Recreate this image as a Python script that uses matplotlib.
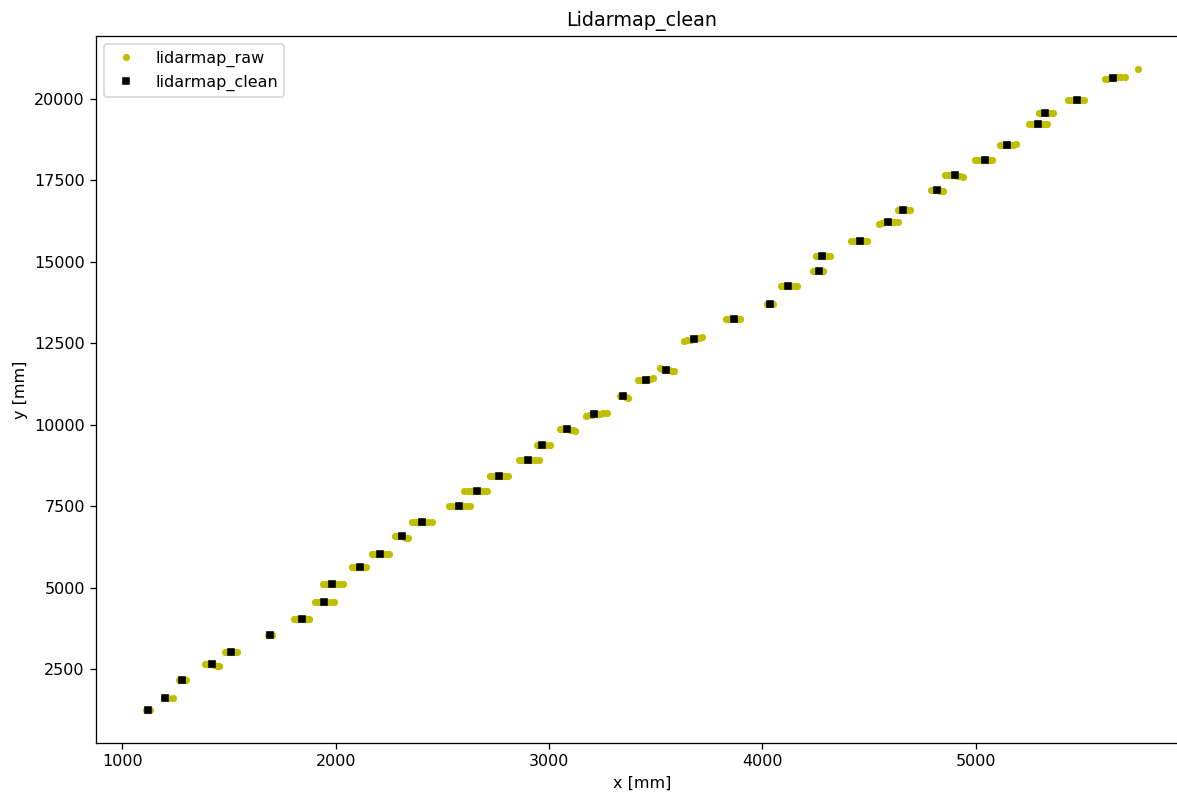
import numpy as np
import matplotlib
matplotlib.use("Agg")
import matplotlib.pyplot as plt

# Cleaned landmark positions (one per cluster of raw lidar hits), in mm
clean_x = [1119, 1200, 1281, 1419, 1509, 1692, 1841, 1944, 1984, 2114,
           2209, 2312, 2403, 2578, 2663, 2765, 2899, 2968, 3086, 3211,
           3347, 3454, 3549, 3679, 3866, 4036, 4121, 4265, 4281, 4459,
           4586, 4659, 4816, 4900, 5044, 5147, 5291, 5322, 5472, 5642]
clean_y = [1241, 1619, 2153, 2644, 3022, 3544, 4044, 4566, 5100, 5622,
           6040, 6574, 7022, 7504, 7974, 8425, 8917, 9377, 9859, 10320,
           10882, 11364, 11680, 12632, 13246, 13691, 14268, 14729, 15180, 15641,
           16233, 16583, 17216, 17667, 18127, 18582, 19218, 19570, 19960, 20654]

# Raw hits around each cleaned landmark (offsets in mm)
raw_dx = [
    [-9, -4, 0, 4, 9],
    [-6, 0, 7, 14, 40],
    [-13, -6, 0, 8, 17],
    [-33, -22, -11, 0, 12, 23, 33],
    [-27, -14, 0, 13, 27],
    [-9, 0, 9],
    [-36, -24, -12, 0, 12, 24, 36],
    [-42, -28, -14, 0, 16, 32, 47],
    [-44, -30, -15, 0, 17, 35, 52],
    [-36, -24, -12, 0, 10, 20, 30],
    [-41, -27, -14, 0, 14, 28, 42],
    [-33, -22, -11, 0, 10, 19, 28],
    [-47, -31, -16, 0, 16, 31, 47],
    [-47, -31, -16, 0, 18, 35, 53],
    [-61, -45, -30, -15, 0, 16, 32, 48],
    [-42, -28, -14, 0, 14, 28, 42],
    [-42, -28, -14, 0, 17, 35, 52],
    [-25, -12, 0, 12, 24, 36],
    [-37, -25, -12, 0, 12, 25, 37],
    [-37, -25, -12, 0, 15, 30, 44, 59],
    [-14, -7, 0, 12, 25],
    [-36, -24, -12, 0, 10, 20, 31],
    [-30, -20, -10, 0, 12, 25, 37],
    [-47, -31, -16, 0, 12, 25, 37],
    [-39, -26, -13, 0, 14, 27],
    [-14, 0, 14],
    [-34, -23, -11, 0, 14, 28, 42],
    [-30, -15, 0, 10, 20],
    [-28, -14, 0, 11, 22, 34],
    [-44, -29, -15, 0, 11, 22, 33],
    [-41, -27, -14, 0, 16, 31, 47],
    [-25, -12, 0, 10, 20, 30],
    [-25, -12, 0, 9, 18, 28],
    [-47, -31, -16, 0, 13, 26, 39],
    [-50, -33, -17, 0, 11, 22, 33],
    [-36, -24, -12, 0, 14, 28, 42],
    [-41, -27, -14, 0, 14, 27, 41],
    [-27, -14, 0, 13, 26, 39],
    [-41, -27, -14, 0, 11, 22, 33],
    [-39, -26, -13, 0, 18, 37, 55],
]
raw_dy = [
    [0, 0, 0, 0, 0],
    [0, 0, 0, 0, -10],
    [0, 0, 0, 0, 0],
    [0, 0, 0, 0, -20, -40, -50],
    [0, 0, 0, 0, 0],
    [0, 0, 0],
    [0, 0, 0, 0, 0, 0, 0],
    [0, 0, 0, 0, 0, 0, 0],
    [0, 0, 0, 0, 0, 0, 0],
    [0, 0, 0, 0, 0, 0, 0],
    [0, 0, 0, 0, 0, 0, 0],
    [0, 0, 0, 0, -20, -40, -60],
    [0, 0, 0, 0, 0, 0, 0],
    [0, 0, 0, 0, 0, 0, 0],
    [0, 0, 0, 0, 0, 0, 0, 0],
    [0, 0, 0, 0, 0, 0, 0],
    [0, 0, 0, 0, 0, 0, 0],
    [0, 0, 0, 0, 0, 0],
    [0, 0, 0, 0, -20, -35, -50],
    [-50, -35, -15, 0, 10, 20, 30, 40],
    [0, 0, 0, -35, -70],
    [0, 0, 0, 0, 25, 50, 70],
    [50, 35, 15, 0, -15, -30, -40],
    [-60, -40, -20, 0, 20, 40, 60],
    [0, 0, 0, 0, 0, 0],
    [0, 0, 0],
    [0, 0, 0, 0, 0, 0, 0],
    [0, 0, 0, 0, 0],
    [0, 0, 0, 0, 0, 0],
    [0, 0, 0, 0, 0, 0, 0],
    [-60, -40, -20, 0, 0, 0, 0],
    [0, 0, 0, 0, 0, 0],
    [0, 0, 0, -15, -30, -50],
    [0, 0, 0, 0, -20, -35, -50],
    [0, 0, 0, 0, 0, 0, 0],
    [0, 0, 0, 0, 10, 20, 30],
    [0, 0, 0, 0, 0, 0, 0],
    [0, 0, 0, 0, 0, 0],
    [0, 0, 0, 0, 0, 0, 0],
    [-50, -35, -15, 0, 10, 20, 30],
]
# Isolated raw hit that was dropped by the cleaning step
stray_x = [5760]
stray_y = [20930]

raw_x = np.concatenate([np.asarray(dx) + cx for dx, cx in zip(raw_dx, clean_x)] + [stray_x])
raw_y = np.concatenate([np.asarray(dy) + cy for dy, cy in zip(raw_dy, clean_y)] + [stray_y])

DPI = 115
fig = plt.figure(figsize=(1177 / DPI, 792 / DPI), dpi=DPI)
ax = fig.add_axes([96 / 1177, 49 / 792, 1092 / 1177, 707 / 792])

ax.plot(raw_x, raw_y, 'y.', markersize=7, label='lidarmap_raw')
ax.plot(clean_x, clean_y, 'ks', markersize=3.6, label='lidarmap_clean')

ax.set_xlim(877, 5994)
ax.set_ylim(228, 21934)
ax.set_xticks([1000, 2000, 3000, 4000, 5000])
ax.set_yticks([2500, 5000, 7500, 10000, 12500, 15000, 17500, 20000])

ax.set_title('Lidarmap_clean')
ax.set_xlabel('x [mm]')
ax.set_ylabel('y [mm]')
ax.legend(loc='upper left')

fig.savefig('out.png', dpi=DPI)
